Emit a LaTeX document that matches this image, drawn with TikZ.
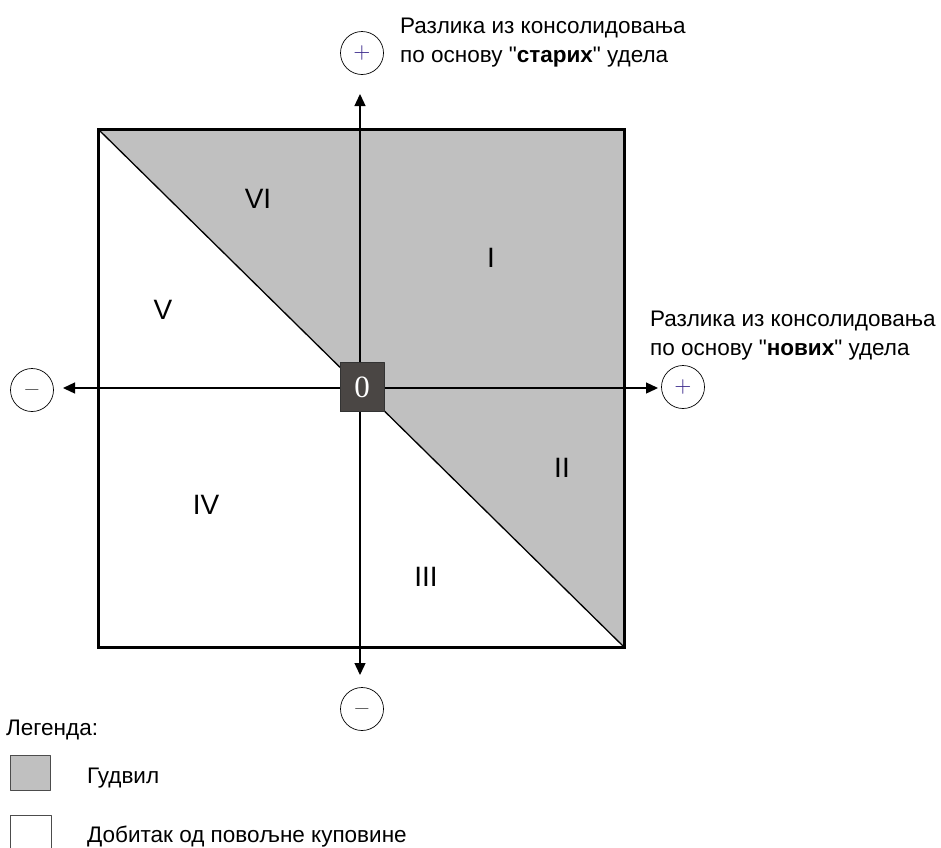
\documentclass[tikz,border=0pt]{standalone}
\usepackage{graphicx}
\usepackage{fontspec}
\setmainfont{Liberation Sans}[Ligatures=TeXOff]
\newfontfamily\numfont{Liberation Serif}
\usetikzlibrary{arrows.meta}

\definecolor{gwgray}{HTML}{C0C0C0}
\definecolor{zerobox}{HTML}{4A4644}
\definecolor{plusviolet}{HTML}{3C2A8C}
\definecolor{minusgray}{HTML}{505050}

\tikzset{
  signcirc/.style={circle, draw, line width=0.7pt, minimum size=43pt, inner sep=0pt, font=\fontsize{10}{10}\selectfont},
  axis/.style={line width=1.3pt, -{Triangle[length=12pt,width=11pt]}},
  quadlabel/.style={inner sep=0pt, font=\fontsize{28}{28}\selectfont},
  notetext/.style={align=left, anchor=base west, inner sep=0pt, font=\fontsize{22.5}{28.5}\selectfont},
  legtext/.style={anchor=base west, inner sep=0pt, font=\fontsize{22.5}{22.5}\selectfont},
  legbox/.style={draw=black!70, line width=0.8pt}
}
\newcommand{\qt}{\symbol{34}}
\newcommand{\bigsign}[1]{\scalebox{2.2}{$#1$}}

\begin{document}
\begin{tikzpicture}[x=1pt, y=-1pt, line join=round, line cap=round]
  \useasboundingbox (0,0) rectangle (941,847);
  \def\xl{98}
  \def\xr{624}
  \def\yt{129}
  \def\yb{647}

  \coordinate (A) at (\xl,\yt);
  \coordinate (B) at (\xr,\yt);
  \coordinate (C) at (\xr,\yb);
  \coordinate (D) at (\xl,\yb);
  \coordinate (c) at (360,388);

  % Fill faces (goodwill triangle)
  \fill[gwgray] (A)--(B)--(C)--cycle;
  \draw[line width=1.3pt] (A)--(C);

  % sign circles
  \node[signcirc, text=plusviolet] (up) at (362,53) {\bigsign{+}};
  \node[signcirc, text=plusviolet] (right) at (683,387) {\bigsign{+}};
  \node[signcirc, text=minusgray] (left) at (32,390) {\bigsign{-}};
  \node[signcirc, text=minusgray] (down) at (362,709) {\bigsign{-}};

  % axes
  \draw[axis, shorten >=-1pt] (c) -- (c |- 0,95) coordinate (upend);
  \draw[axis] (c) -- (c |- 0,675) coordinate (downend);
  \draw[axis] (c) -- (c -| 658,0) coordinate (rightend);
  \draw[axis] (c) -- (c -| 63,0) coordinate (leftend);

  % frame
  \draw[line width=3pt, line cap=butt, line join=miter] (A)--(B)--(C)--(D)--cycle;

  % origin
  \node[fill=zerobox, draw=black!80, line width=0.6pt, minimum width=44pt, minimum height=49pt,
        text=white, font={\numfont\fontsize{31}{31}\selectfont}] (zero) at (362,387) {0};

  % quadrant labels
  \node[quadlabel] (q6) at (258,199) {VI};
  \node[quadlabel] (q1) at (491,258) {I};
  \node[quadlabel] (q5) at (163,310) {V};
  \node[quadlabel] (q2) at (562,468) {II};
  \node[quadlabel] (q4) at (206,505) {IV};
  \node[quadlabel] (q3) at (426,577) {III};

  % axis notes
  \node[notetext] (noteup) at (400,62) {Разлика из консолидовања\\по основу \qt\textbf{старих}\qt{} удела};
  \node[notetext] (noteright) at (650,355) {Разлика из консолидовања\\по основу \qt\textbf{нових}\qt{} удела};

  % legend
  \node[legtext] (leghead) at (6,735) {Легенда:};
  \draw[legbox, fill=gwgray] (10,755) rectangle (50,790);
  \node[legtext] (leggw) at (87,783) {Гудвил};
  \draw[legbox, fill=white] (10,815) rectangle (51,850);
  \node[legtext] (leggain) at (87,842) {Добитак од повољне куповине};
\end{tikzpicture}
\end{document}
